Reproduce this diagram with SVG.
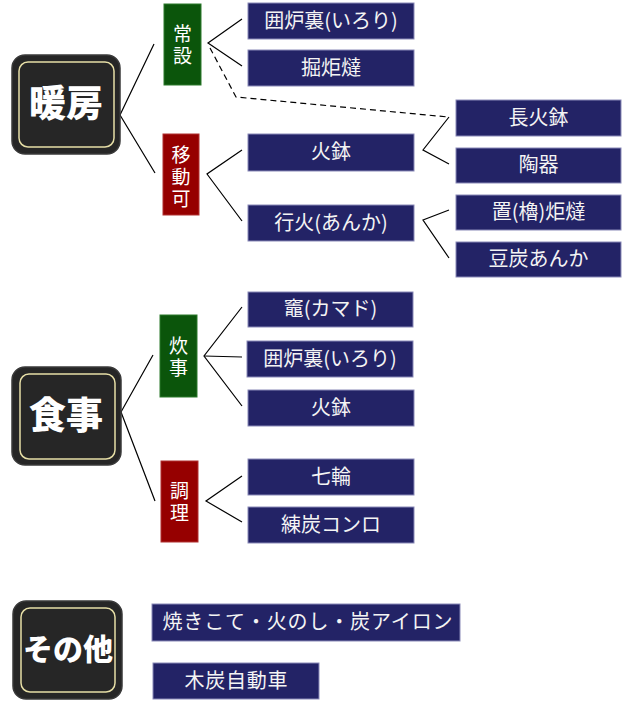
<svg xmlns="http://www.w3.org/2000/svg" width="630" height="704" viewBox="0 0 630 704">
<style>
.big{fill:#262626;stroke:#3a3a3a;stroke-width:1.5}
.inner{fill:none;stroke:#e6dea6;stroke-width:1.5}
.bt{font-family:"Noto Sans CJK JP","Noto Sans",sans-serif;font-weight:900;fill:#fff;text-anchor:middle}
.g{fill:#0b550b;stroke:#2d7a2d;stroke-width:1}
.r{fill:#960000;stroke:#b03030;stroke-width:1}
.ct{font-family:"Noto Sans CJK JP",sans-serif;font-size:19px;fill:#fff;text-anchor:middle;writing-mode:vertical-rl;letter-spacing:3px}
.n{fill:#232366;stroke:#8a8ab8;stroke-width:1}
.nt{font-family:"Noto Sans CJK JP",sans-serif;font-size:20px;fill:#f4f4f4;text-anchor:middle}
.ln{fill:none;stroke:#000;stroke-width:1.2}
.dash{fill:none;stroke:#000;stroke-width:1.2;stroke-dasharray:6 4}
</style>
<rect width="630" height="704" fill="#fff"/>
<g id="connectors">
<polyline class="ln" points="154,44 120,115 155,173"/>
<polyline class="ln" points="242,19 208,43 242,66"/>
<polyline class="dash" points="210,48 236,97 448,117"/>
<polyline class="ln" points="242,150 207,174 242,221"/>
<polyline class="ln" points="449,117 423,150 449,164"/>
<polyline class="ln" points="449,210 423,220 449,258"/>
<polyline class="ln" points="153,355 121,412 155,501"/>
<polyline class="ln" points="242,307 204,356 242,406"/>
<line class="ln" x1="204" y1="356" x2="242" y2="357"/>
<polyline class="ln" points="242,476 206,501 242,522"/>
</g>
<g id="danbou">
<rect class="big" x="12" y="55" width="108" height="99" rx="13"/>
<rect class="inner" x="19" y="62" width="95" height="85" rx="9"/>
<text class="bt" x="66" y="117" font-size="37">暖房</text>
</g>
<g id="shokuji">
<rect class="big" x="12" y="367" width="109" height="98" rx="13"/>
<rect class="inner" x="20" y="374" width="95" height="85" rx="9"/>
<text class="bt" x="66" y="429" font-size="37">食事</text>
</g>
<g id="sonota">
<rect class="big" x="13" y="601" width="109" height="98" rx="13"/>
<rect class="inner" x="21" y="608" width="94" height="84" rx="9"/>
<text class="bt" x="68" y="660" font-size="30">その他</text>
</g>
<g id="jousetsu">
<rect class="g" x="164" y="4" width="37" height="81"/>
<text class="ct" x="182.5" y="46">常設</text>
</g>
<g id="idouka">
<rect class="r" x="163" y="134" width="36" height="81"/>
<text class="ct" x="181" y="178">移動可</text>
</g>
<g id="suiji">
<rect class="g" x="160" y="315" width="37" height="82"/>
<text class="ct" x="178.5" y="358">炊事</text>
</g>
<g id="chouri">
<rect class="r" x="161" y="461" width="37" height="81"/>
<text class="ct" x="179.5" y="503">調理</text>
</g>
<g id="irori1"><rect class="n" x="248" y="3" width="166" height="36"/><text class="nt" x="331" y="28">囲炉裏(いろり)</text></g>
<g id="horigotatsu"><rect class="n" x="248" y="50" width="166" height="36"/><text class="nt" x="331" y="75">掘炬燵</text></g>
<g id="hibachi1"><rect class="n" x="248" y="134" width="166" height="37"/><text class="nt" x="331" y="159">火鉢</text></g>
<g id="anka"><rect class="n" x="248" y="205" width="166" height="36"/><text class="nt" x="331" y="230">行火(あんか)</text></g>
<g id="nagahibachi"><rect class="n" x="456" y="100" width="165" height="36"/><text class="nt" x="538.5" y="125">長火鉢</text></g>
<g id="touki"><rect class="n" x="456" y="148" width="165" height="35"/><text class="nt" x="538.5" y="172">陶器</text></g>
<g id="okigotatsu"><rect class="n" x="456" y="195" width="165" height="35"/><text class="nt" x="538.5" y="219">置(櫓)炬燵</text></g>
<g id="mametan"><rect class="n" x="456" y="242" width="165" height="35"/><text class="nt" x="538.5" y="266">豆炭あんか</text></g>
<g id="kamado"><rect class="n" x="248" y="292" width="165" height="35"/><text class="nt" x="330.5" y="316">竈(カマド)</text></g>
<g id="irori2"><rect class="n" x="247" y="341" width="166" height="36"/><text class="nt" x="330" y="366">囲炉裏(いろり)</text></g>
<g id="hibachi2"><rect class="n" x="248" y="390" width="166" height="36"/><text class="nt" x="331" y="415">火鉢</text></g>
<g id="shichirin"><rect class="n" x="248" y="459" width="166" height="36"/><text class="nt" x="331" y="484">七輪</text></g>
<g id="rentan"><rect class="n" x="248" y="507" width="166" height="36"/><text class="nt" x="331" y="532">練炭コンロ</text></g>
<g id="yakikote"><rect class="n" x="152" y="604" width="308" height="37"/><text class="nt" x="307.5" y="629" textLength="290" lengthAdjust="spacing">焼きこて・火のし・炭アイロン</text></g>
<g id="mokutan"><rect class="n" x="153" y="663" width="166" height="36"/><text class="nt" x="236" y="688" textLength="103" lengthAdjust="spacing">木炭自動車</text></g>
</svg>
